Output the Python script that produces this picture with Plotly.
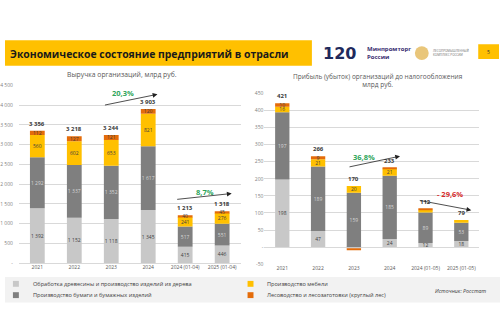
import plotly.graph_objects as go

W, H = 500, 333


def px(x):
    return x / W


def py(y):
    return 1 - y / H


FONT = "Open Sans"

# Revenue, bn RUB
rev_periods = ["2021", "2022", "2023", "2024", "2024 (01-04)", "2025 (01-04)"]
rev_wood = [1392, 1152, 1118, 1345, 415, 446]
rev_paper = [1292, 1337, 1352, 1617, 517, 551]
rev_furniture = [560, 602, 653, 821, 241, 276]
rev_forestry = [112, 127, 121, 120, 40, 45]

# Profit (loss) before tax, bn RUB
prof_periods = ["2021", "2022", "2023", "2024", "2024 (01-05)", "2025 (01-05)"]
prof_wood = [198, 47, -4, 24, 12, 18]
prof_paper = [197, 189, 159, 185, 89, 53]
prof_furniture = [16, 21, 20, 21, 8, 8]
prof_forestry = [10, 9, -5, 3, 3, 0]

series_names = [
    "Обработка древесины и производство изделий из дерева",
    "Производство бумаги и бумажных изделий",
    "Производство мебели",
    "Лесоводство и лесозаготовки (круглый лес)",
]
series_colors = ["#C8C8C8", "#7F7F7F", "#FFC000", "#E46C0A"]
label_colors = ["#3F3F3F", "#D6D6D6", "#3F3F3F", "#3F3F3F"]

rev_ticks = [0, 500, 1000, 1500, 2000, 2500, 3000, 3500, 4000, 4500]
prof_ticks = [-50, 0, 50, 100, 150, 200, 250, 300, 350, 400, 450]


def fmt(v):
    if v == 0:
        return ""
    return f"{v:,}".replace(",", "\u00a0")


def seg_label(v, min_abs):
    # segments too thin to carry a readable number stay unlabelled
    return fmt(v) if abs(v) >= min_abs else ""


def tick_text(vals):
    return ["-" if v == 0 else fmt(v) for v in vals]


def note(x, y, text, size, color, xanchor="center", yanchor="middle",
         family=FONT, **kw):
    return dict(x=px(x), y=py(y), xref="paper", yref="paper", text=text,
                showarrow=False, xanchor=xanchor, yanchor=yanchor,
                font=dict(size=size, color=color, family=family), **kw)


fig = go.Figure()

rev_series = [rev_wood, rev_paper, rev_furniture, rev_forestry]
prof_series = [prof_wood, prof_paper, prof_furniture, prof_forestry]

for i, name in enumerate(series_names):
    for periods, series, xa, ya, min_abs in (
            (rev_periods, rev_series, "x", "y", 0),
            (prof_periods, prof_series, "x2", "y2", 9)):
        fig.add_trace(go.Bar(
            x=periods, y=series[i], name=name,
            marker=dict(color=series_colors[i], line=dict(width=0)),
            text=[seg_label(v, min_abs) for v in series[i]],
            textposition="inside", insidetextanchor="middle", textangle=0,
            textfont=dict(size=5, color=label_colors[i], family=FONT),
            xaxis=xa, yaxis=ya, showlegend=False,
        ))

annotations = []

# Totals above the stacks (x given as category index)
for xaxis, yaxis, periods, series in (("x", "y", rev_periods, rev_series),
                                       ("x2", "y2", prof_periods, prof_series)):
    for j in range(len(periods)):
        vals = [s[j] for s in series]
        total = sum(vals)
        top = sum(v for v in vals if v > 0)
        annotations.append(dict(
            x=j, y=top, xref=xaxis, yref=yaxis, text=f"<b>{fmt(total)}</b>",
            showarrow=False, xanchor="center", yanchor="bottom", yshift=1,
            font=dict(size=6, color="#3A3A3A", family=FONT),
        ))

# Chart titles
annotations.append(note(118, 73, "Выручка организаций, млрд руб.", 6.8, "#595959"))
annotations.append(note(377, 78.5,
                        "Прибыль (убыток) организаций до налогообложения<br>млрд руб.",
                        6.5, "#595959"))

# Growth arrows and rates
growth = [
    ("20,3%", "#2EA55A", (119, 92), (100, 104), (154, 93)),
    ("8,7%", "#2EA55A", (202, 192), (173, 200), (229, 194)),
    ("36,8%", "#2EA55A", (363, 157), (347, 167), (399, 156)),
    ("- 29,6%", "#D62B2B", (449, 195), (418, 201), (471, 211)),
]
for label, color, (lx, ly), (tx, ty), (hx, hy) in growth:
    annotations.append(note(lx, ly, f"<b>{label}</b>", 7.5, color))
    annotations.append(dict(
        x=px(hx), y=py(hy), xref="paper", yref="paper",
        ax=tx - hx, ay=ty - hy, axref="pixel", ayref="pixel",
        text="", showarrow=True, arrowhead=2, arrowsize=1.2,
        arrowwidth=0.8, arrowcolor="#222222",
    ))

# Header
annotations.append(note(3, 51.5, "<b>Экономическое состояние предприятий в отрасли</b>",
                        10.4, "#1A1A1A", xanchor="left"))
annotations.append(note(319, 51.5, "<b>120</b>", 16, "#1F2A5C", xanchor="left",
                        family="DejaVu Sans"))
annotations.append(note(364, 51, "<b>Минпромторг<br>России</b>", 6, "#3A2F72",
                        xanchor="left", align="left"))
annotations.append(note(430, 50.5, "ЛЕСОПРОМЫШЛЕННЫЙ<br>КОМПЛЕКС РОССИИ", 3, "#6B6B6B",
                        xanchor="left", align="left"))
annotations.append(note(488.5, 49.5, "5", 5, "#333333"))

# Legend
legend_pos = [(8, 286), (8, 297.5), (245, 286), (245, 297.5)]
shapes = [
    dict(type="rect", xref="paper", yref="paper", x0=0, x1=px(310),
         y0=py(64), y1=py(38), fillcolor="#FFC000", line=dict(width=0),
         layer="below"),
    dict(type="rect", xref="paper", yref="paper", x0=px(478), x1=px(499),
         y0=py(57), y1=py(42), fillcolor="#FFC000", line=dict(width=0),
         layer="below"),
    dict(type="circle", xref="paper", yref="paper", x0=px(414), x1=px(428),
         y0=py(58), y1=py(44), fillcolor="#E9C67A", line=dict(width=0)),
    dict(type="rect", xref="paper", yref="paper", x0=0, x1=1,
         y0=py(305), y1=py(279), fillcolor="#F2F2F2", line=dict(width=0),
         layer="below"),
]
for (lx, ly), name, color in zip(legend_pos, series_names, series_colors):
    shapes.append(dict(
        type="rect", xref="paper", yref="paper",
        x0=px(lx), x1=px(lx + 6), y0=py(ly + 3), y1=py(ly - 3),
        fillcolor=color, line=dict(width=0),
    ))
    annotations.append(note(lx + 18, ly, name, 5.6, "#404040", xanchor="left"))
annotations.append(note(489, 293, "<i>Источник: Росстат</i>", 5.3, "#404040",
                        xanchor="right"))

axis_common = dict(showline=False, ticks="", fixedrange=True)

fig.update_layout(
    width=W, height=H,
    margin=dict(l=0, r=0, t=0, b=0),
    paper_bgcolor="white", plot_bgcolor="white",
    barmode="relative", bargap=0.6,
    uniformtext=dict(minsize=5, mode="show"),
    font=dict(family=FONT),
    xaxis=dict(domain=[px(14), px(238)], anchor="y", type="category",
               range=[-0.5, 5.5],
               tickfont=dict(size=5, color="#595959"), showgrid=False,
               **axis_common),
    yaxis=dict(domain=[py(265), py(84)], anchor="x", range=[0, 4500],
               tickvals=rev_ticks, ticktext=tick_text(rev_ticks),
               tickfont=dict(size=5, color="#7F7F7F"), ticklabelstandoff=5,
               gridcolor="#D9D9D9", gridwidth=0.6,
               zeroline=True, zerolinecolor="#D9D9D9", zerolinewidth=0.6,
               **axis_common),
    xaxis2=dict(domain=[px(262), px(479)], anchor="y2", type="category",
                range=[-0.5, 5.5],
                tickfont=dict(size=5, color="#595959"), showgrid=False,
                **axis_common),
    yaxis2=dict(domain=[py(266), py(92)], anchor="x2", range=[-50, 450],
                tickvals=prof_ticks, ticktext=tick_text(prof_ticks),
                tickfont=dict(size=5, color="#7F7F7F"),
                gridcolor="#D9D9D9", gridwidth=0.6,
                zeroline=True, zerolinecolor="#D9D9D9", zerolinewidth=0.6,
                **axis_common),
    shapes=shapes,
    annotations=annotations,
)

fig.write_html("out.html")
